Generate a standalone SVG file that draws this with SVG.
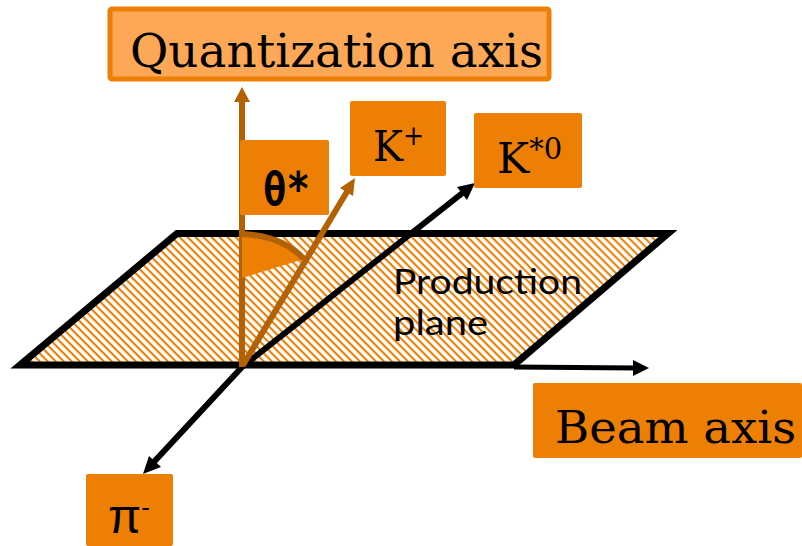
<svg xmlns="http://www.w3.org/2000/svg" width="802" height="546" viewBox="0 0 802 546">
<style>
.box{fill:#ec7f04}
.serif{font-family:"DejaVu Serif","Liberation Serif",serif;fill:#000}
.sans{font-family:"Lato","Open Sans",sans-serif;fill:#000}
.blk{stroke:#000;fill:none}
.brn{stroke:#b26205;fill:none}
.hb{fill:#000}
.ho{fill:#b26205}
</style>
<defs>
<pattern id="hatch" width="5.66" height="5.66" patternUnits="userSpaceOnUse" patternTransform="rotate(45)">
<rect width="5.66" height="5.66" fill="#fff"/>
<rect width="5.66" height="2.1" y="0" fill="#ec7f04"/>
</pattern>
</defs>
<g id="plane">
<path d="M177 233.5H668L514 365H20Z" fill="url(#hatch)" stroke="#000" stroke-width="7"/>
<text class="sans" font-size="34" x="393" y="294" textLength="189" lengthAdjust="spacingAndGlyphs">Production</text>
<text class="sans" font-size="34" x="393" y="335" textLength="95" lengthAdjust="spacingAndGlyphs">plane</text>
</g>
<g id="connectors">
<path class="blk" stroke-width="5" d="M514 367L636 368"/>
<polygon class="hb" points="649,368 633,360 633,376"/>
<path class="blk" stroke-width="6" d="M242 367L465 191"/>
<polygon class="hb" points="475,183 467,200 457,187"/>
<path class="blk" stroke-width="6" d="M242 367L152 464"/>
<polygon class="hb" points="143,474 149,456 161,467"/>
<path class="brn" stroke-width="6" d="M242 367V100"/>
<polygon class="ho" points="242,87 234,102 250,102"/>
<path class="brn" stroke-width="6" d="M243 365L348 190"/>
<polygon class="ho" points="355,178 353,196 340,188"/>
</g>
<g id="angle">
<path d="M242 233Q283 236 304 259L242 278Z" fill="#ec7f04"/>
<path class="brn" stroke-width="6" d="M242 234Q283 236 304 259"/>
</g>
<g id="theta"><rect class="box" x="240" y="140" width="89" height="75" rx="2"/>
<text transform="translate(263 205) scale(1 1.2)" font-family="DejaVu Sans Mono,monospace" font-weight="bold" font-size="39" fill="#000">θ*</text></g>
<g id="quant"><rect x="110" y="9" width="439" height="70" rx="2" fill="#fca856" stroke="#ec7f04" stroke-width="5"/>
<text class="serif" font-size="46" x="130" y="67" textLength="413" lengthAdjust="spacingAndGlyphs">Quantization axis</text></g>
<g id="kplus"><rect class="box" x="350" y="101" width="96" height="75" rx="2"/>
<text class="serif" font-size="43" x="373" y="161" textLength="51" lengthAdjust="spacingAndGlyphs">K<tspan font-size="27" dy="-16">+</tspan></text></g>
<g id="kstar"><rect class="box" x="474" y="113" width="108" height="75" rx="2"/>
<text class="serif" font-size="43" x="497" y="173">K<tspan font-size="29" dy="-14">*0</tspan></text></g>
<g id="beam"><rect class="box" x="533" y="383" width="269" height="75" rx="2"/>
<text class="serif" font-size="44" x="555" y="443" textLength="241" lengthAdjust="spacingAndGlyphs">Beam axis</text></g>
<g id="pi"><rect class="box" x="86" y="474" width="87" height="72" rx="2"/>
<text font-family="Liberation Sans,sans-serif" font-size="48" x="108" y="533" fill="#000">π<tspan font-size="26" dy="-17">-</tspan></text></g>
</svg>
